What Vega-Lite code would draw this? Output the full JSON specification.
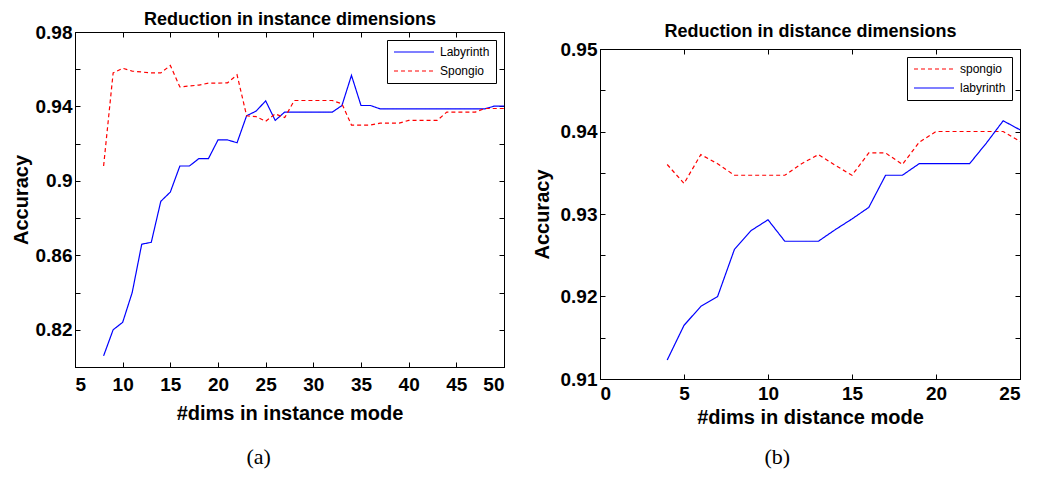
{
  "$schema": "https://vega.github.io/schema/vega-lite/v6.json",
  "padding": {"left": 10, "top": 3, "right": 0, "bottom": 0},
  "background": "white",
  "spacing": 24,
  "resolve": {"scale": {"color": "independent", "strokeDash": "independent"}},
  "hconcat": [
    {
      "spacing": 0,
      "resolve": {"scale": {"color": "independent", "strokeDash": "independent"}},
      "vconcat": [
        {"width": 1, "height": 1, "data": {"values": [{}]}, "mark": {"type": "point", "opacity": 0}, "view": {"stroke": null}},
        {
          "width": 429,
          "height": 335,
          "title": {"text": "(a)", "orient": "bottom", "anchor": "middle", "frame": "bounds", "font": "Liberation Serif", "fontSize": 22, "fontWeight": "normal", "offset": 24},
          "data": {"values": [
            {"x": 8, "acc": 0.806, "series": "Labyrinth"},
            {"x": 9, "acc": 0.820, "series": "Labyrinth"},
            {"x": 10, "acc": 0.824, "series": "Labyrinth"},
            {"x": 11, "acc": 0.840, "series": "Labyrinth"},
            {"x": 12, "acc": 0.866, "series": "Labyrinth"},
            {"x": 13, "acc": 0.867, "series": "Labyrinth"},
            {"x": 14, "acc": 0.889, "series": "Labyrinth"},
            {"x": 15, "acc": 0.894, "series": "Labyrinth"},
            {"x": 16, "acc": 0.908, "series": "Labyrinth"},
            {"x": 17, "acc": 0.908, "series": "Labyrinth"},
            {"x": 18, "acc": 0.912, "series": "Labyrinth"},
            {"x": 19, "acc": 0.912, "series": "Labyrinth"},
            {"x": 20, "acc": 0.922, "series": "Labyrinth"},
            {"x": 21, "acc": 0.922, "series": "Labyrinth"},
            {"x": 22, "acc": 0.9205, "series": "Labyrinth"},
            {"x": 23, "acc": 0.935, "series": "Labyrinth"},
            {"x": 24, "acc": 0.9375, "series": "Labyrinth"},
            {"x": 25, "acc": 0.943, "series": "Labyrinth"},
            {"x": 26, "acc": 0.9325, "series": "Labyrinth"},
            {"x": 27, "acc": 0.937, "series": "Labyrinth"},
            {"x": 28, "acc": 0.937, "series": "Labyrinth"},
            {"x": 29, "acc": 0.937, "series": "Labyrinth"},
            {"x": 30, "acc": 0.937, "series": "Labyrinth"},
            {"x": 31, "acc": 0.937, "series": "Labyrinth"},
            {"x": 32, "acc": 0.937, "series": "Labyrinth"},
            {"x": 33, "acc": 0.9405, "series": "Labyrinth"},
            {"x": 34, "acc": 0.9567, "series": "Labyrinth"},
            {"x": 35, "acc": 0.9405, "series": "Labyrinth"},
            {"x": 36, "acc": 0.9405, "series": "Labyrinth"},
            {"x": 37, "acc": 0.9387, "series": "Labyrinth"},
            {"x": 38, "acc": 0.9387, "series": "Labyrinth"},
            {"x": 39, "acc": 0.9387, "series": "Labyrinth"},
            {"x": 40, "acc": 0.9387, "series": "Labyrinth"},
            {"x": 41, "acc": 0.9387, "series": "Labyrinth"},
            {"x": 42, "acc": 0.9387, "series": "Labyrinth"},
            {"x": 43, "acc": 0.9387, "series": "Labyrinth"},
            {"x": 44, "acc": 0.9387, "series": "Labyrinth"},
            {"x": 45, "acc": 0.9387, "series": "Labyrinth"},
            {"x": 46, "acc": 0.9387, "series": "Labyrinth"},
            {"x": 47, "acc": 0.9387, "series": "Labyrinth"},
            {"x": 48, "acc": 0.9387, "series": "Labyrinth"},
            {"x": 49, "acc": 0.9402, "series": "Labyrinth"},
            {"x": 50, "acc": 0.9402, "series": "Labyrinth"},
            {"x": 8, "acc": 0.908, "series": "Spongio"},
            {"x": 9, "acc": 0.958, "series": "Spongio"},
            {"x": 10, "acc": 0.9605, "series": "Spongio"},
            {"x": 11, "acc": 0.959, "series": "Spongio"},
            {"x": 12, "acc": 0.9585, "series": "Spongio"},
            {"x": 13, "acc": 0.958, "series": "Spongio"},
            {"x": 14, "acc": 0.958, "series": "Spongio"},
            {"x": 15, "acc": 0.962, "series": "Spongio"},
            {"x": 16, "acc": 0.9505, "series": "Spongio"},
            {"x": 17, "acc": 0.951, "series": "Spongio"},
            {"x": 18, "acc": 0.9515, "series": "Spongio"},
            {"x": 19, "acc": 0.9525, "series": "Spongio"},
            {"x": 20, "acc": 0.9525, "series": "Spongio"},
            {"x": 21, "acc": 0.9527, "series": "Spongio"},
            {"x": 22, "acc": 0.957, "series": "Spongio"},
            {"x": 23, "acc": 0.935, "series": "Spongio"},
            {"x": 24, "acc": 0.9345, "series": "Spongio"},
            {"x": 25, "acc": 0.932, "series": "Spongio"},
            {"x": 26, "acc": 0.936, "series": "Spongio"},
            {"x": 27, "acc": 0.934, "series": "Spongio"},
            {"x": 28, "acc": 0.9432, "series": "Spongio"},
            {"x": 29, "acc": 0.9432, "series": "Spongio"},
            {"x": 30, "acc": 0.9432, "series": "Spongio"},
            {"x": 31, "acc": 0.9432, "series": "Spongio"},
            {"x": 32, "acc": 0.9432, "series": "Spongio"},
            {"x": 33, "acc": 0.9414, "series": "Spongio"},
            {"x": 34, "acc": 0.930, "series": "Spongio"},
            {"x": 35, "acc": 0.930, "series": "Spongio"},
            {"x": 36, "acc": 0.930, "series": "Spongio"},
            {"x": 37, "acc": 0.931, "series": "Spongio"},
            {"x": 38, "acc": 0.931, "series": "Spongio"},
            {"x": 39, "acc": 0.931, "series": "Spongio"},
            {"x": 40, "acc": 0.9325, "series": "Spongio"},
            {"x": 41, "acc": 0.9325, "series": "Spongio"},
            {"x": 42, "acc": 0.9325, "series": "Spongio"},
            {"x": 43, "acc": 0.9325, "series": "Spongio"},
            {"x": 44, "acc": 0.937, "series": "Spongio"},
            {"x": 45, "acc": 0.937, "series": "Spongio"},
            {"x": 46, "acc": 0.937, "series": "Spongio"},
            {"x": 47, "acc": 0.937, "series": "Spongio"},
            {"x": 48, "acc": 0.9389, "series": "Spongio"},
            {"x": 49, "acc": 0.9389, "series": "Spongio"},
            {"x": 50, "acc": 0.9389, "series": "Spongio"}
          ]},
          "layer": [
            {
              "mark": {"type": "line", "strokeWidth": 1.2},
              "encoding": {
                "x": {"field": "x", "type": "quantitative", "scale": {"domain": [5, 50], "nice": false, "zero": false},
                      "axis": {"orient": "bottom", "values": [5, 10, 15, 20, 25, 30, 35, 40, 45, 50], "labelPadding": 13, "title": "#dims in instance mode", "titlePadding": 9}},
                "y": {"field": "acc", "type": "quantitative", "scale": {"domain": [0.8, 0.98], "nice": false, "zero": false},
                      "axis": {"orient": "left", "values": [0.8, 0.82, 0.84, 0.86, 0.88, 0.9, 0.92, 0.94, 0.96, 0.98],
                               "labelExpr": "round(datum.value*100) % 4 == 2 ? format(datum.value, '~g') : ''", "title": "Accuracy", "titlePadding": 4}},
                "color": {"field": "series", "type": "nominal", "scale": {"domain": ["Labyrinth", "Spongio"], "range": ["#0000ff", "#ff0000"]}},
                "strokeDash": {"field": "series", "type": "nominal", "scale": {"domain": ["Labyrinth", "Spongio"], "range": [[1, 0], [4, 3]]}}
              }
            },
            {
              "mark": {"type": "line", "opacity": 0},
              "encoding": {
                "x": {"field": "x", "type": "quantitative", "scale": {"domain": [5, 50], "nice": false, "zero": false},
                      "axis": {"orient": "top", "values": [5, 10, 15, 20, 25, 30, 35, 40, 45, 50], "labels": false, "title": "Reduction in instance dimensions", "titleFontSize": 18, "titlePadding": 3}},
                "y": {"field": "acc", "type": "quantitative", "scale": {"domain": [0.8, 0.98], "nice": false, "zero": false},
                      "axis": {"orient": "right", "values": [0.8, 0.82, 0.84, 0.86, 0.88, 0.9, 0.92, 0.94, 0.96, 0.98], "labels": false, "title": null}},
                "detail": {"field": "series", "type": "nominal"}
              }
            }
          ],
          "resolve": {"axis": {"x": "independent", "y": "independent"}}
        }
      ]
    },
    {
      "spacing": 12,
      "resolve": {"scale": {"color": "independent", "strokeDash": "independent"}},
      "vconcat": [
        {"width": 1, "height": 1, "data": {"values": [{}]}, "mark": {"type": "point", "opacity": 0}, "view": {"stroke": null}},
        {
          "width": 420,
          "height": 330,
          "title": {"text": "(b)", "orient": "bottom", "anchor": "middle", "frame": "bounds", "font": "Liberation Serif", "fontSize": 22, "fontWeight": "normal", "offset": 20},
          "data": {"values": [
            {"x": 4, "acc": 0.936, "series": "spongio"},
            {"x": 5, "acc": 0.9337, "series": "spongio"},
            {"x": 6, "acc": 0.9372, "series": "spongio"},
            {"x": 7, "acc": 0.9361, "series": "spongio"},
            {"x": 8, "acc": 0.9347, "series": "spongio"},
            {"x": 9, "acc": 0.9347, "series": "spongio"},
            {"x": 10, "acc": 0.9347, "series": "spongio"},
            {"x": 11, "acc": 0.9347, "series": "spongio"},
            {"x": 12, "acc": 0.9361, "series": "spongio"},
            {"x": 13, "acc": 0.9372, "series": "spongio"},
            {"x": 14, "acc": 0.9359, "series": "spongio"},
            {"x": 15, "acc": 0.9347, "series": "spongio"},
            {"x": 16, "acc": 0.9374, "series": "spongio"},
            {"x": 17, "acc": 0.9374, "series": "spongio"},
            {"x": 18, "acc": 0.936, "series": "spongio"},
            {"x": 19, "acc": 0.9387, "series": "spongio"},
            {"x": 20, "acc": 0.940, "series": "spongio"},
            {"x": 21, "acc": 0.940, "series": "spongio"},
            {"x": 22, "acc": 0.940, "series": "spongio"},
            {"x": 23, "acc": 0.940, "series": "spongio"},
            {"x": 24, "acc": 0.940, "series": "spongio"},
            {"x": 25, "acc": 0.9388, "series": "spongio"},
            {"x": 4, "acc": 0.9123, "series": "labyrinth"},
            {"x": 5, "acc": 0.9165, "series": "labyrinth"},
            {"x": 6, "acc": 0.9188, "series": "labyrinth"},
            {"x": 7, "acc": 0.920, "series": "labyrinth"},
            {"x": 8, "acc": 0.9257, "series": "labyrinth"},
            {"x": 9, "acc": 0.928, "series": "labyrinth"},
            {"x": 10, "acc": 0.9293, "series": "labyrinth"},
            {"x": 11, "acc": 0.9267, "series": "labyrinth"},
            {"x": 12, "acc": 0.9267, "series": "labyrinth"},
            {"x": 13, "acc": 0.9267, "series": "labyrinth"},
            {"x": 14, "acc": 0.9281, "series": "labyrinth"},
            {"x": 15, "acc": 0.9294, "series": "labyrinth"},
            {"x": 16, "acc": 0.9308, "series": "labyrinth"},
            {"x": 17, "acc": 0.9347, "series": "labyrinth"},
            {"x": 18, "acc": 0.9347, "series": "labyrinth"},
            {"x": 19, "acc": 0.9361, "series": "labyrinth"},
            {"x": 20, "acc": 0.9361, "series": "labyrinth"},
            {"x": 21, "acc": 0.9361, "series": "labyrinth"},
            {"x": 22, "acc": 0.9361, "series": "labyrinth"},
            {"x": 23, "acc": 0.9386, "series": "labyrinth"},
            {"x": 24, "acc": 0.9413, "series": "labyrinth"},
            {"x": 25, "acc": 0.9402, "series": "labyrinth"}
          ]},
          "layer": [
            {
              "mark": {"type": "line", "strokeWidth": 1.2},
              "encoding": {
                "x": {"field": "x", "type": "quantitative", "scale": {"domain": [0, 25], "nice": false, "zero": false},
                      "axis": {"orient": "bottom", "values": [0, 5, 10, 15, 20, 25], "labelPadding": 10, "title": "#dims in distance mode", "titlePadding": 4}},
                "y": {"field": "acc", "type": "quantitative", "scale": {"domain": [0.91, 0.95], "nice": false, "zero": false},
                      "axis": {"orient": "left", "values": [0.91, 0.915, 0.92, 0.925, 0.93, 0.935, 0.94, 0.945, 0.95],
                               "labelExpr": "round(datum.value*1000) % 10 == 0 ? format(datum.value, '.2f') : ''", "title": "Accuracy", "titlePadding": 8}},
                "color": {"field": "series", "type": "nominal", "scale": {"domain": ["spongio", "labyrinth"], "range": ["#ff0000", "#0000ff"]}},
                "strokeDash": {"field": "series", "type": "nominal", "scale": {"domain": ["spongio", "labyrinth"], "range": [[4, 3], [1, 0]]}}
              }
            },
            {
              "mark": {"type": "line", "opacity": 0},
              "encoding": {
                "x": {"field": "x", "type": "quantitative", "scale": {"domain": [0, 25], "nice": false, "zero": false},
                      "axis": {"orient": "top", "values": [0, 5, 10, 15, 20, 25], "labels": false, "title": "Reduction in distance dimensions", "titleFontSize": 18, "titlePadding": 8}},
                "y": {"field": "acc", "type": "quantitative", "scale": {"domain": [0.91, 0.95], "nice": false, "zero": false},
                      "axis": {"orient": "right", "values": [0.91, 0.915, 0.92, 0.925, 0.93, 0.935, 0.94, 0.945, 0.95], "labels": false, "title": null}},
                "detail": {"field": "series", "type": "nominal"}
              }
            }
          ],
          "resolve": {"axis": {"x": "independent", "y": "independent"}}
        }
      ]
    }
  ],
  "config": {
    "view": {"stroke": "#000000", "strokeWidth": 1},
    "axis": {
      "grid": false,
      "domainColor": "#000000",
      "domainWidth": 1,
      "tickColor": "#000000",
      "tickSize": -5,
      "tickWidth": 1,
      "labelFont": "Liberation Sans",
      "labelFontSize": 19,
      "labelFontWeight": "bold",
      "labelColor": "#000000",
      "labelPadding": 8,
      "titleFont": "Liberation Sans",
      "titleFontSize": 20,
      "titleFontWeight": "bold",
      "titleColor": "#000000"
    },
    "legend": {
      "orient": "top-right",
      "offset": 8,
      "title": null,
      "padding": 6,
      "strokeColor": "#000000",
      "fillColor": "#ffffff",
      "symbolType": "M-1,0H7",
      "symbolSize": 100,
      "symbolStrokeWidth": 1.2,
      "labelFont": "Liberation Sans",
      "labelFontSize": 12,
      "labelColor": "#000000",
      "labelOffset": 35,
      "rowPadding": 7
    }
  }
}
